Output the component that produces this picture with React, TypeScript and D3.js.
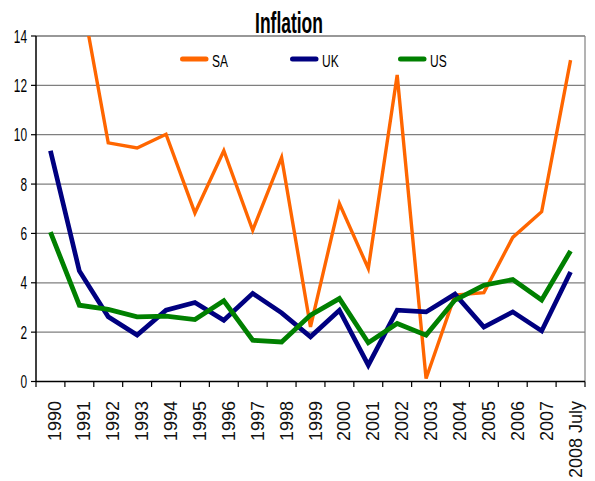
import React from "react";
import * as d3 from "d3";

const years = ["1990","1991","1992","1993","1994","1995","1996","1997","1998","1999","2000","2001","2002","2003","2004","2005","2006","2007","2008 July"];
const saValues: (number | null)[] = [null, 16.1, 9.67, 9.46, 10.02, 6.83, 9.35, 6.13, 9.08, 2.21, 7.21, 4.58, 12.42, 0.12, 3.5, 3.6, 5.84, 6.88, 13.02];
const ukValues: (number | null)[] = [9.35, 4.48, 2.62, 1.88, 2.89, 3.2, 2.48, 3.57, 2.78, 1.81, 2.89, 0.66, 2.89, 2.82, 3.54, 2.21, 2.82, 2.05, 4.44];
const usValues: (number | null)[] = [6.05, 3.09, 2.92, 2.62, 2.65, 2.51, 3.27, 1.67, 1.6, 2.69, 3.36, 1.57, 2.35, 1.88, 3.3, 3.9, 4.13, 3.3, 5.29];
const yTicks = [0, 2, 4, 6, 8, 10, 12, 14];
const seriesNames = ["SA", "UK", "US"];
const seriesColors = ["#FF6600", "#000080", "#008000"];
const seriesWidths = [3.4, 4.7, 4.8];

const W = 595, H = 481;
const L = 36, R = 585, T = 36, B = 381.5;
const SANS = "'Liberation Sans', Arial, sans-serif";

export default function App() {
  const x = d3.scaleBand<string>().domain(years).range([L, R]).padding(0);
  const y = d3.scaleLinear().domain([0, 14]).range([B, T]);
  const bw = x.bandwidth();
  const cx = (d: string) => (x(d) as number) + bw / 2;
  const allSeries = [saValues, ukValues, usValues];
  const line = d3
    .line<[string, number | null]>()
    .defined((d) => d[1] !== null)
    .x((d) => cx(d[0]))
    .y((d) => y(d[1] as number));

  const boundaries = [...years.map((d) => x(d) as number), R];
  const legendX = [182.5, 292.5, 400.5];

  return (
    <svg width={W} height={H} style={{ position: "absolute", left: 0, top: 0, background: "#fff" }}>
      <defs>
        <clipPath id="plotclip">
          <rect x={L} y={T} width={R - L} height={B - T} />
        </clipPath>
      </defs>
      <rect x={0} y={0} width={W} height={H} fill="#fff" />
      {yTicks.filter((t) => t > 0).map((t) => (
        <line key={t} x1={L} x2={R} y1={y(t)} y2={y(t)} stroke={t === 14 ? "#333" : "#7f7f7f"} strokeWidth={1.2} />
      ))}
      <line x1={R} x2={R} y1={T} y2={B} stroke="#808080" strokeWidth={1.2} />
      <g clipPath="url(#plotclip)">
        {allSeries.map((vals, i) => (
          <path
            key={i}
            d={line(years.map((yr, j) => [yr, vals[j]] as [string, number | null])) || ""}
            fill="none"
            stroke={seriesColors[i]}
            strokeWidth={seriesWidths[i]}
            strokeLinejoin="miter"
          />
        ))}
      </g>
      <line x1={L} x2={L} y1={T} y2={B} stroke="#000" strokeWidth={1.5} />
      <line x1={L} x2={R} y1={B} y2={B} stroke="#000" strokeWidth={1.5} />
      {yTicks.map((t) => (
        <g key={t}>
          <line x1={L - 5} x2={L} y1={y(t)} y2={y(t)} stroke="#000" strokeWidth={1.2} />
          <text
            transform={`translate(${L - 9},${y(t) + 6.6}) scale(0.82,1.28)`}
            textAnchor="end"
            fontFamily={SANS}
            fontSize={14.5}
            fill="#000"
          >
            {t}
          </text>
        </g>
      ))}
      {boundaries.map((bx, i) => (
        <line key={i} x1={bx} x2={bx} y1={B} y2={B + 5.5} stroke="#000" strokeWidth={1.2} />
      ))}
      {years.map((yr) => (
        <text
          key={yr}
          transform={`translate(${cx(yr) + 11},${401}) rotate(-90)`}
          textAnchor="end"
          fontFamily={SANS}
          fontSize={18}
          fill="#111"
        >
          {yr}
        </text>
      ))}
      <text
        transform={`translate(289,33.3) scale(0.82,1.42)`}
        textAnchor="middle"
        fontFamily={SANS}
        fontWeight="bold"
        fontSize={21.3}
        fill="#000"
      >
        Inflation
      </text>
      {seriesNames.map((n, i) => (
        <g key={n}>
          <line
            x1={legendX[i]}
            x2={legendX[i] + 23.5}
            y1={59}
            y2={59}
            stroke={seriesColors[i]}
            strokeWidth={5}
            strokeLinecap="round"
          />
          <text
            transform={`translate(${legendX[i] + 29.5},66.7) scale(0.82,1.15)`}
            fontFamily={SANS}
            fontSize={14.6}
            fill="#000"
          >
            {n}
          </text>
        </g>
      ))}
    </svg>
  );
}
